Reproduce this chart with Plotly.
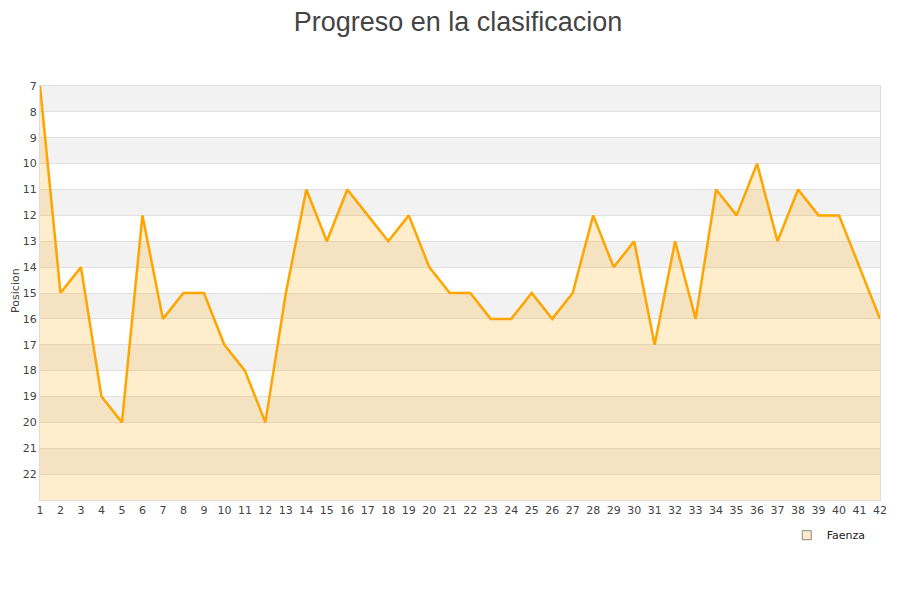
import plotly.graph_objects as go

# jornadas y posicion de Faenza
jornadas = list(range(1, 43))
posicion = [7, 15, 14, 19, 20, 12, 16, 15, 15, 17, 18, 20, 15, 11, 13, 11, 12, 13, 12, 14,
            15, 15, 16, 16, 15, 16, 15, 12, 14, 13, 17, 13, 16, 11, 12, 10, 13, 11, 12, 12,
            14, 16]
y_ticks = list(range(7, 23))
fondo = 23

fig = go.Figure()

# base invisible para rellenar hasta el fondo del eje invertido
fig.add_trace(go.Scatter(
    x=jornadas, y=[fondo] * len(jornadas),
    mode="lines", line=dict(width=0), showlegend=False, hoverinfo="skip"
))
fig.add_trace(go.Scatter(
    x=jornadas, y=posicion,
    mode="lines", name="Faenza", showlegend=False,
    line=dict(color="#FFA500", width=2.5),
    fill="tonexty", fillcolor="rgba(255,165,0,0.2)"
))
# entrada de leyenda con cuadrado
fig.add_trace(go.Scatter(
    x=[None], y=[None], mode="markers", name="Faenza",
    marker=dict(symbol="square", size=9, color="#FFEBC8", line=dict(color="#888", width=1))
))

# bandas alternas grises
shapes = []
for t in y_ticks[::2]:
    shapes.append(dict(
        type="rect", xref="paper", yref="y", x0=0, x1=1, y0=t, y1=t + 1,
        fillcolor="#f2f2f2", line=dict(width=0), layer="below"
    ))

fig.update_layout(
    width=900, height=600,
    title=dict(text="Progreso en la clasificacion", x=0.5, xanchor="center",
               y=0.978, yanchor="middle",
               font=dict(family="Liberation Sans, Arial", size=27, color="#444")),
    font=dict(family="DejaVu Sans", size=11, color="#444"),
    plot_bgcolor="white", paper_bgcolor="white",
    margin=dict(l=32, r=28, t=78, b=108),
    shapes=shapes,
    showlegend=True,
    legend=dict(x=0.989, xanchor="right", y=-0.05, yanchor="top", bgcolor="rgba(0,0,0,0)",
                font=dict(size=11, color="#222")),
    annotations=[dict(text="Posicion", xref="paper", yref="paper", x=0, y=0.505,
                      xshift=-24, xanchor="center", yanchor="middle", textangle=-90,
                      showarrow=False, font=dict(size=11, color="#444"))],
)
fig.update_xaxes(
    range=[1, 42], tickmode="linear", dtick=1, showgrid=False, automargin=False,
    showline=True, linecolor="#dddddd", mirror=True, ticks="", zeroline=False
)
fig.update_yaxes(
    range=[fondo, 7], tickvals=y_ticks, showgrid=True, gridcolor="#e0e0e0", automargin=False,
    showline=True, linecolor="#dddddd", mirror=True, zeroline=False
)

fig.write_html("out.html")
